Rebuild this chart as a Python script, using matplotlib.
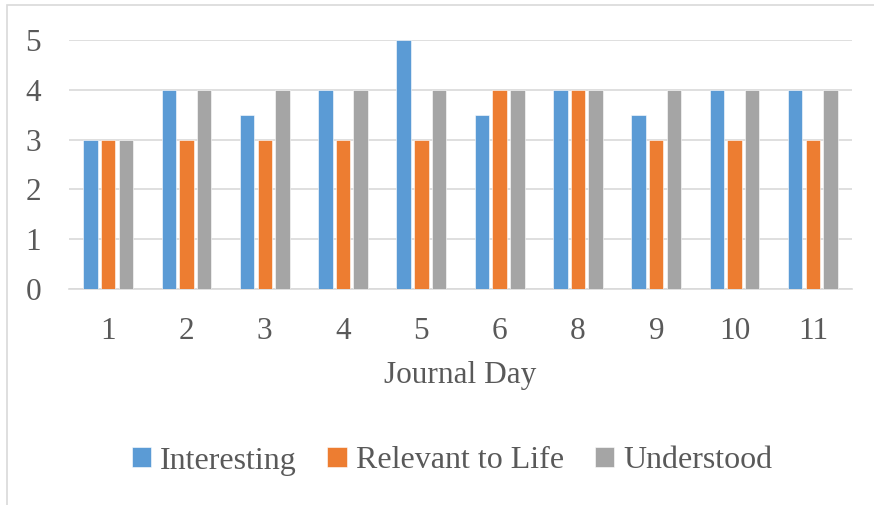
import matplotlib.pyplot as plt
import numpy as np
from matplotlib.patches import Rectangle

# Datos
dias = ['1', '2', '3', '4', '5', '6', '8', '9', '10', '11']
interesante = [3, 4, 3.5, 4, 5, 3.5, 4, 3.5, 4, 4]
relevante = [3, 3, 3, 3, 3, 4, 4, 3, 3, 3]
entendido = [3, 4, 4, 4, 4, 4, 4, 4, 4, 4]
series = ['Interesting', 'Relevant to Life', 'Understood']
colores = ['#5B9BD5', '#ED7D31', '#A5A5A5']

plt.rcParams['font.family'] = ['Liberation Serif', 'DejaVu Serif']
gris_texto = '#595959'
tam = 22.5

W, H = 874, 505
fig = plt.figure(figsize=(W / 100, H / 100), dpi=100)
ax = fig.add_axes([69 / W, 1 - 289 / H, (852 - 69) / W, (289 - 40) / H])

# Borde del área del gráfico (solo se ven izquierda y arriba)
fig.patches.append(Rectangle((7 / W, -0.1), 1.2, 1 - 5 / H + 0.1,
                             transform=fig.transFigure, fill=False,
                             edgecolor='#D9D9D9', linewidth=1.2))

x = np.arange(len(dias))
ancho = 0.185
paso = 0.225
for i, (vals, nombre, col) in enumerate(zip([interesante, relevante, entendido], series, colores)):
    ax.bar(x + (i - 1) * paso, vals, width=ancho, color=col, label=nombre,
           edgecolor='white', linewidth=0.4, zorder=3)

ax.set_xlim(-0.5, len(dias) - 0.5)
ax.set_ylim(0, 5)
ax.set_yticks(range(6))
ax.set_xticks(x)
ax.set_xticklabels(dias)
ax.yaxis.grid(True, color='#D9D9D9', linewidth=1.2, zorder=0)
ax.tick_params(length=0, labelsize=tam, labelcolor=gris_texto)
ax.tick_params(axis='x', pad=20)
ax.tick_params(axis='y', pad=20)
for s in ['top', 'right', 'left']:
    ax.spines[s].set_visible(False)
ax.spines['bottom'].set_color('#D9D9D9')
ax.spines['bottom'].set_linewidth(1.2)

ax.set_xlabel('Journal Day', fontsize=tam, color=gris_texto, labelpad=11)

leg = fig.legend(loc='center', bbox_to_anchor=(452 / W, 1 - 461 / H), ncol=3,
                 frameon=False, fontsize=23, handlelength=0.6, handleheight=0.6,
                 handletextpad=0.3, columnspacing=0.95)
for t in leg.get_texts():
    t.set_color(gris_texto)

fig.savefig('out.png', dpi=100)
